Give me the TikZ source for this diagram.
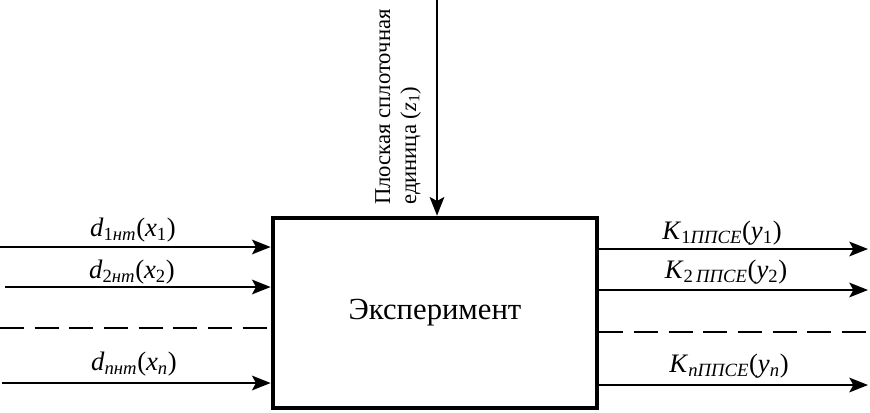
\documentclass[tikz,border=0pt]{standalone}
\usepackage{fontspec}
\setmainfont{Liberation Serif}
\usepackage{tikz}
\usetikzlibrary{arrows.meta}
\tikzstyle{box}=[draw, line width=3.5pt, minimum width=243pt, minimum height=142.5pt, inner sep=0pt, font=\fontsize{23}{28}\selectfont]
\tikzstyle{arr}=[line width=1.5pt, -{Stealth[length=14pt,width=11pt,inset=3pt]}]
\tikzstyle{dashline}=[line width=1.5pt, dash pattern=on 18pt off 8pt]
\tikzstyle{lbl}=[inner sep=0pt, font=\fontsize{20}{24}\selectfont]
\newcommand{\lbl}{\node[lbl]}
\newcommand{\dvar}[3]{\textit{d}\textsubscript{#1\textit{#2}}(\textit{x}\textsubscript{#3})}
\newcommand{\kvar}[3]{\textit{K}\textsubscript{#1\textit{#2}}(\textit{y}\textsubscript{#3})}

\begin{document}
\begin{tikzpicture}[x=0.75pt,y=-0.75pt]
	\useasboundingbox (0,0) rectangle (870,412);
	\node[box] (exp) at (435,313) {Эксперимент};
	\coordinate (top) at (437,0);
	\coordinate (in1) at (0,247);
	\coordinate (in2) at (5,287);
	\coordinate (ind) at (0,328);
	\coordinate (inn) at (2,383);
	\coordinate (out1) at (868,249);
	\coordinate (out2) at (868,290);
	\coordinate (outd) at (870,332);
	\coordinate (outn) at (868,385);

	\lbl (d1) at (133,230) {\dvar{1}{нт}{1}};
	\lbl (d2) at (132,272) {\dvar{2}{нт}{2}};
	\lbl (dn) at (134,364) {\dvar{}{nнт}{\textit{n}}};
	\lbl (k1) at (722,233) {\kvar{1}{ППСЕ}{1}};
	\lbl (k2) at (726,272) {\kvar{2\,}{ППСЕ}{2}};
	\lbl (kn) at (729,366) {\kvar{}{nППСЕ}{\textit{n}}};
	\node[rotate=90, anchor=west, align=left, inner sep=0pt, font=\fontsize{17}{19.5}\selectfont] (z1) at (398,205)
		{Плоская сплоточная\\единица (\textit{z}\textsubscript{1})};

	\draw[arr] (top) -- (top |- exp.north);
	\draw[arr] (in1) -- (in1 -| exp.west);
	\draw[arr] (in2) -- (in2 -| exp.west);
	\draw[dashline] (ind) -- (ind -| exp.west);
	\draw[arr] (inn) -- (inn -| exp.west);
	\draw[arr] (exp.east |- out1) -- (out1);
	\draw[arr] (exp.east |- out2) -- (out2);
	\draw[dashline] (exp.east |- outd) -- (outd);
	\draw[arr] (exp.east |- outn) -- (outn);
\end{tikzpicture}
\end{document}
